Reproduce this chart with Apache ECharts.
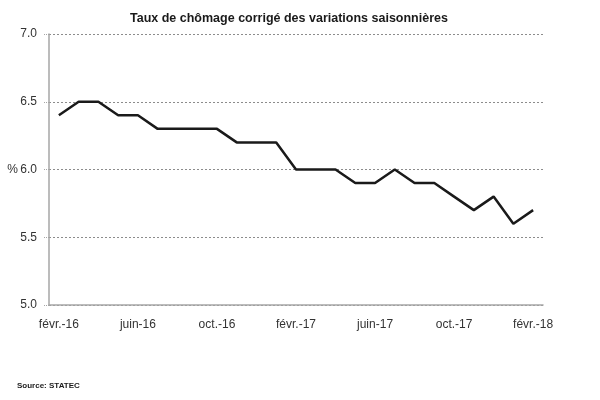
<!DOCTYPE html>
<html>
<head>
<meta charset="utf-8">
<script src="https://cdn.jsdelivr.net/npm/echarts@6/dist/echarts.min.js"></script>
<style>
html,body{margin:0;padding:0;background:#fff;}
#chart{width:600px;height:400px;}
</style>
</head>
<body>
<div id="chart"></div>
<script>
var months = ['févr.-16','mars-16','avr.-16','mai-16','juin-16','juil.-16','août-16','sept.-16','oct.-16','nov.-16','déc.-16','janv.-17',
              'févr.-17','mars-17','avr.-17','mai-17','juin-17','juil.-17','août-17','sept.-17','oct.-17','nov.-17','déc.-17','janv.-18','févr.-18'];
var chomage = [6.4, 6.5, 6.5, 6.4, 6.4, 6.3, 6.3, 6.3, 6.3, 6.2, 6.2, 6.2,
               6.0, 6.0, 6.0, 5.9, 5.9, 6.0, 5.9, 5.9, 5.8, 5.7, 5.8, 5.6, 5.7];
var yTicks = ['5.0','5.5','6.0','6.5','7.0'];

var font = '"Liberation Sans", Arial, sans-serif';
var chart = echarts.init(document.getElementById('chart'));
var option = {
    animation: false,
    title: [
        {
            text: 'Taux de chômage corrigé des variations saisonnières',
            left: 125,
            top: 7,
            textStyle: {fontFamily: font, fontSize: 12.5, fontWeight: 'bold', color: '#1a1a1a'}
        },
        {
            text: 'Source: STATEC',
            left: 12,
            top: 377,
            textStyle: {fontFamily: font, fontSize: 8, fontWeight: 'bold', color: '#1a1a1a'}
        }
    ],
    grid: {left: 49, right: 57, top: 34, bottom: 95},
    xAxis: {
        type: 'category',
        data: months,
        boundaryGap: true,
        axisLine: {lineStyle: {color: '#a6a6a6', width: 1.5}},
        axisTick: {interval: 3, length: 5, lineStyle: {color: '#a6a6a6'}},
        axisLabel: {interval: 3, margin: 14, fontFamily: font, fontSize: 12, color: '#333'},
        splitLine: {show: false}
    },
    yAxis: {
        type: 'value',
        min: 5.0,
        max: 7.0,
        interval: 0.5,
        name: '%',
        nameLocation: 'middle',
        nameRotate: 0,
        nameGap: 31,
        nameMoveOverlap: false,
        nameTextStyle: {fontFamily: font, fontSize: 12, color: '#333'},
        axisLine: {show: true, lineStyle: {color: '#a6a6a6', width: 1.5}},
        axisTick: {show: true, length: 5, lineStyle: {color: '#a6a6a6', type: 'dotted'}},
        axisLabel: {
            margin: 12,
            fontFamily: font, fontSize: 12, color: '#333',
            formatter: function (v) { return yTicks[Math.round((v - 5.0) / 0.5)]; }
        },
        splitLine: {show: true, lineStyle: {color: '#8c8c8c', type: [2, 2], width: 1}}
    },
    series: [{
        type: 'line',
        data: chomage,
        symbol: 'none',
        lineStyle: {color: '#1a1a1a', width: 2.5},
        z: 3
    }]
};
chart.setOption(option);
</script>
</body>
</html>
